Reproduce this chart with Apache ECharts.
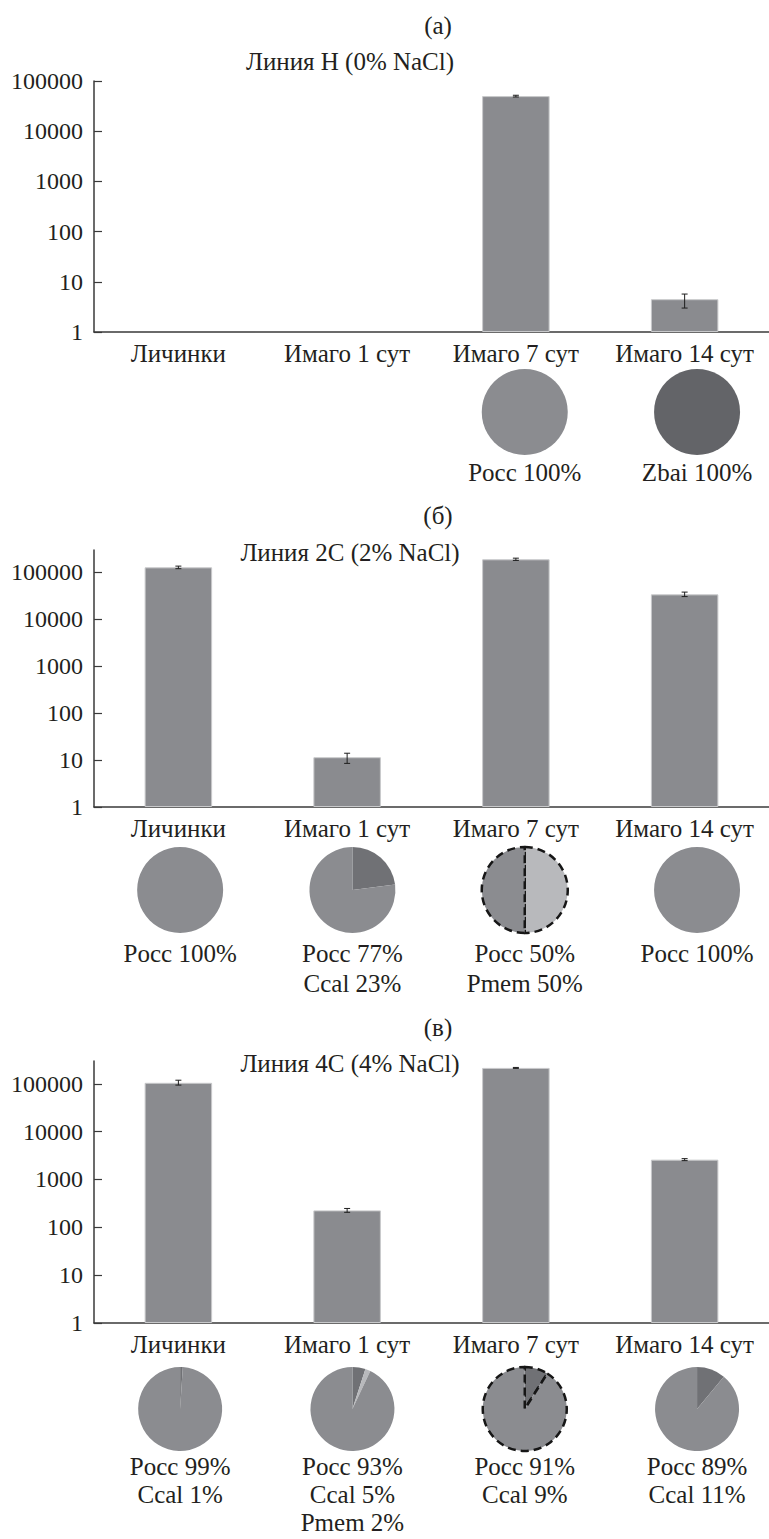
<!DOCTYPE html>
<html>
<head>
<meta charset="utf-8">
<title>Линии H, 2C, 4C</title>
<script src="https://cdn.jsdelivr.net/npm/echarts@6/dist/echarts.min.js"></script>
<style>
  html, body { margin: 0; padding: 0; background: #fff; }
  #chart { width: 769px; height: 1539px; }
</style>
</head>
<body>
<div id="chart"></div>
<script>
// ось X и подписи оси Y
const categories = ['Личинки', 'Имаго 1 сут', 'Имаго 7 сут', 'Имаго 14 сут']
const yTicks = [1, 10, 100, 1000, 10000, 100000]

// (а) Линия H (0% NaCl)
const countsH = [null, null, 50000, 4.5]
const errLowH = [null, null, 48000, 3.0]
const errHighH = [null, null, 52000, 5.7]
const poccH = [null, null, 100, null]
const zbaiH = [null, null, null, 100]

// (б) Линия 2C (2% NaCl)
const counts2C = [128000, 11.5, 190000, 34000]
const errLow2C = [120000, 8.5, 180000, 30500]
const errHigh2C = [136000, 14, 201000, 38000]
const pocc2C = [100, 77, 50, 100]
const ccal2C = [null, 23, null, null]
const pmem2C = [null, null, 50, null]

// (в) Линия 4C (4% NaCl)
const counts4C = [105000, 226, 215000, 2600]
const errLow4C = [94000, 206, 210000, 2480]
const errHigh4C = [119000, 248, 220000, 2730]
const pocc4C = [99, 93, 91, 89]
const ccal4C = [1, 5, 9, 11]
const pmem4C = [null, 2, null, null]

const FONT = 'Liberation Serif'
const INK = '#231f20'
const AXIS = '#3a3a3a'
const speciesColor = { Pocc: '#8b8c90', Ccal: '#707175', Pmem: '#b8b9bc', Zbai: '#636468' }
const sliceOrder = ['Ccal', 'Pmem', 'Zbai', 'Pocc'] // по часовой от 12 часов
const labelOrder = ['Pocc', 'Zbai', 'Ccal', 'Pmem']

const gridLeft = 94
const catWidth = 172.3

const panels = [
  {
    letter: '(а)', title: 'Линия H (0% NaCl)',
    counts: countsH, lo: errLowH, hi: errHighH,
    species: { Pocc: poccH, Zbai: zbaiH }, dashed: [],
    letterY: 25, titleY: 61, top: 81, bottom: 332, max: 100000,
    pieY: 412, pieR: 43, textY: 472, lineH: 30
  },
  {
    letter: '(б)', title: 'Линия 2C (2% NaCl)',
    counts: counts2C, lo: errLow2C, hi: errHigh2C,
    species: { Pocc: pocc2C, Ccal: ccal2C, Pmem: pmem2C }, dashed: [2],
    letterY: 515, titleY: 552, top: 550, bottom: 807, max: 300000,
    pieY: 890, pieR: 43, textY: 953, lineH: 30
  },
  {
    letter: '(в)', title: 'Линия 4C (4% NaCl)',
    counts: counts4C, lo: errLow4C, hi: errHigh4C,
    species: { Pocc: pocc4C, Ccal: ccal4C, Pmem: pmem4C }, dashed: [2],
    letterY: 1027, titleY: 1063, top: 1061, bottom: 1323, max: 300000,
    pieY: 1409, pieR: 42, textY: 1466, lineH: 28
  }
]

function renderError(params, api) {
  const x = api.value(0)
  const top = api.coord([x, api.value(2)])
  const bot = api.coord([x, api.value(1)])
  const cap = 3
  const style = { stroke: '#1e1e1e', lineWidth: 1 }
  return {
    type: 'group',
    children: [
      { type: 'line', shape: { x1: top[0], y1: top[1], x2: bot[0], y2: bot[1] }, style },
      { type: 'line', shape: { x1: top[0] - cap, y1: top[1], x2: top[0] + cap, y2: top[1] }, style },
      { type: 'line', shape: { x1: bot[0] - cap, y1: bot[1], x2: bot[0] + cap, y2: bot[1] }, style }
    ]
  }
}

function textEl(text, x, y, vAlign, lineH) {
  return {
    type: 'text',
    x: x,
    y: y,
    silent: true,
    style: {
      text: text,
      font: '25px "' + FONT + '"',
      fill: INK,
      align: 'center',
      textAlign: 'center',
      verticalAlign: vAlign,
      textVerticalAlign: vAlign,
      lineHeight: lineH || 30
    }
  }
}

const grid = []
const xAxis = []
const yAxis = []
const series = []
const graphic = []

panels.forEach((p, k) => {
  grid.push({ left: gridLeft, top: p.top, width: catWidth * 4, height: p.bottom - p.top })
  xAxis.push({
    type: 'category',
    gridIndex: k,
    data: categories,
    axisLine: { lineStyle: { color: AXIS, width: 1.5 } },
    axisTick: { inside: true, length: 8, lineStyle: { color: AXIS, width: 1.2 } },
    axisLabel: { interval: 0, margin: 9, fontSize: 25, fontFamily: FONT, color: INK }
  })
  yAxis.push({
    type: 'log',
    logBase: 10,
    gridIndex: k,
    min: 1,
    max: p.max,
    splitLine: { show: false },
    axisLine: { show: true, lineStyle: { color: AXIS, width: 1.5 } },
    axisTick: { show: true, inside: true, length: 8, customValues: yTicks, lineStyle: { color: AXIS, width: 1.2 } },
    axisLabel: {
      customValues: yTicks,
      margin: 11,
      fontSize: 24,
      fontFamily: FONT,
      color: INK,
      formatter: v => String(Math.round(v))
    }
  })
  series.push({
    type: 'bar',
    xAxisIndex: k,
    yAxisIndex: k,
    barWidth: '40%',
    data: p.counts,
    itemStyle: { color: '#8a8b8f', borderColor: '#c8c9cb', borderWidth: 1 },
    silent: true,
    animation: false
  })
  series.push({
    type: 'custom',
    xAxisIndex: k,
    yAxisIndex: k,
    renderItem: renderError,
    encode: { x: 0, y: [1, 2] },
    data: categories.map((c, i) => (p.lo[i] == null ? null : [i, p.lo[i], p.hi[i]])).filter(Boolean),
    silent: true,
    animation: false,
    z: 5
  })

  graphic.push(textEl(p.letter, 438, p.letterY, 'middle'))
  graphic.push(textEl(p.title, 350, p.titleY, 'middle'))

  categories.forEach((c, i) => {
    const slices = []
    sliceOrder.forEach(name => {
      const arr = p.species[name]
      if (arr && arr[i] != null) slices.push({ name: name, value: arr[i], itemStyle: { color: speciesColor[name] } })
    })
    if (!slices.length) return
    const cx = gridLeft + (i + 0.5) * catWidth
    const dashed = p.dashed.indexOf(i) >= 0
    series.push({
      type: 'pie',
      center: [cx, p.pieY],
      radius: p.pieR,
      startAngle: 90,
      clockwise: true,
      silent: true,
      animation: false,
      label: { show: false },
      labelLine: { show: false },
      itemStyle: dashed
        ? { borderColor: '#161616', borderWidth: 2.5, borderType: [8, 5] }
        : { borderWidth: 0 },
      data: slices
    })
    const lines = []
    labelOrder.forEach(name => {
      const arr = p.species[name]
      if (arr && arr[i] != null) lines.push(name + ' ' + arr[i] + '%')
    })
    graphic.push(textEl(lines.join('\n'), cx, p.textY - p.lineH / 2, 'top', p.lineH))
  })
})

const chart = echarts.init(document.getElementById('chart'), null, { renderer: 'svg', width: 769, height: 1539 })
chart.setOption({
  backgroundColor: '#fff',
  animation: false,
  grid: grid,
  xAxis: xAxis,
  yAxis: yAxis,
  series: series,
  graphic: graphic
})
</script>
</body>
</html>
